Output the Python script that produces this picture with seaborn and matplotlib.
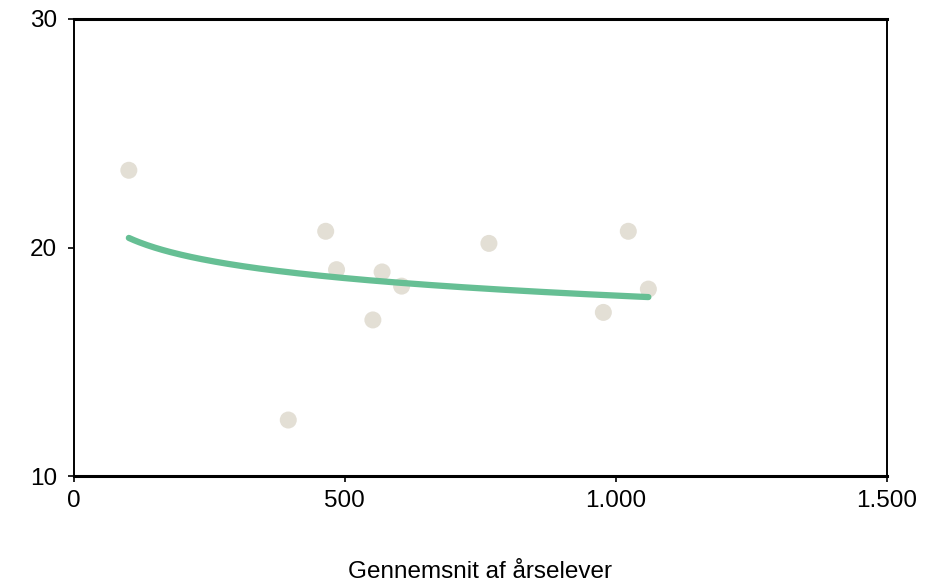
import numpy as np
import pandas as pd
import matplotlib
matplotlib.use("Agg")
import matplotlib.pyplot as plt
import matplotlib.ticker as mticker
import seaborn as sns

# Scatter data
aarselever = [102, 465, 485, 569, 605, 552, 396, 766, 1023, 1060, 977]
vaerdi = [23.38, 20.71, 19.03, 18.93, 18.31, 16.83, 12.45, 20.18, 20.71, 18.18, 17.16]

# Logarithmic trend line y = a + b*ln(x), as shown on the chart
trend_a = 25.535
trend_b = -1.106

x_ticks = [0, 500, 1000, 1500]
y_ticks = [10, 20, 30]
x_label = "Gennemsnit af årselever"

point_color = "#E3DFD5"
line_color = "#66BF94"

sns.set_style("white")
plt.rcParams['font.family'] = ['Liberation Sans', 'DejaVu Sans']
plt.rcParams['text.color'] = 'black'
plt.rcParams['axes.labelcolor'] = 'black'
plt.rcParams['xtick.color'] = 'black'
plt.rcParams['ytick.color'] = 'black'


def thousands(v, pos):
    return f"{int(round(v)):,}".replace(",", ".")


def main():
    df = pd.DataFrame({'x': aarselever, 'y': vaerdi})
    xs = np.linspace(min(aarselever), max(aarselever), 200)
    trend = pd.DataFrame({'x': xs, 'y': trend_a + trend_b * np.log(xs)})

    fig = plt.figure(figsize=(9.39, 5.81), dpi=100)
    ax = fig.add_axes([0.0783, 0.1807, 0.8663, 0.7866])

    sns.scatterplot(x='x', y='y', data=df, ax=ax, s=150, color=point_color,
                    edgecolor='none', zorder=2)
    sns.lineplot(x='x', y='y', data=trend, ax=ax, color=line_color,
                 linewidth=4.5, solid_capstyle='round', zorder=3)

    ax.set_xlim(0, 1500)
    ax.set_ylim(10, 30)
    ax.set_xticks(x_ticks)
    ax.set_yticks(y_ticks)
    ax.xaxis.set_major_formatter(mticker.FuncFormatter(thousands))
    ax.set_xlabel(x_label, fontsize=17.5, labelpad=35)
    ax.set_ylabel("")
    ax.tick_params(axis='both', labelsize=17.5, length=4, width=1.2,
                   color='black', labelcolor='black', direction='out')
    ax.tick_params(axis='y', pad=8, left=True)
    ax.tick_params(axis='x', pad=6, bottom=True)

    for side in ['top', 'bottom']:
        ax.spines[side].set_linewidth(2.2)
        ax.spines[side].set_color('black')
    for side in ['left', 'right']:
        ax.spines[side].set_linewidth(1.4)
        ax.spines[side].set_color('black')

    fig.savefig("out.png", dpi=100)


if __name__ == "__main__":
    main()
